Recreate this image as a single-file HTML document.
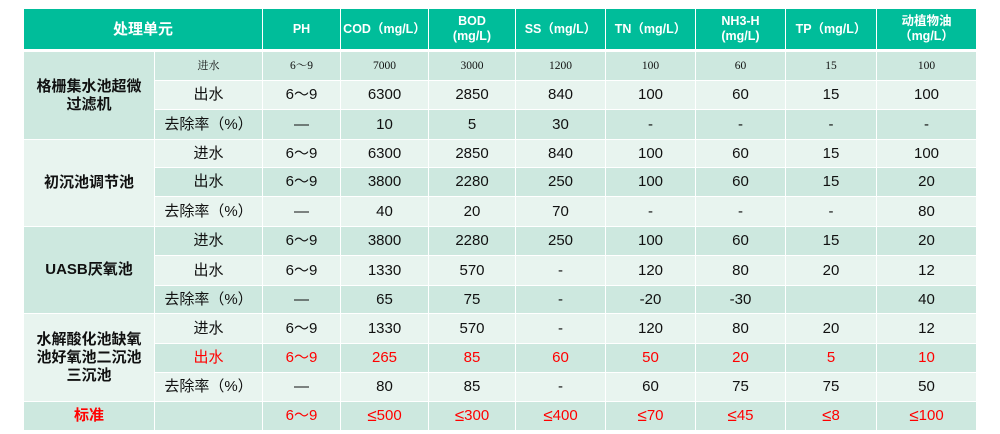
<!DOCTYPE html>
<html><head><meta charset="utf-8">
<style>
html,body{margin:0;padding:0;background:#fff;width:1000px;height:434px;overflow:hidden;}
body{position:relative;font-family:"Liberation Sans","Noto Sans CJK SC",sans-serif;color:#111;}
.c{position:absolute;display:flex;align-items:center;justify-content:center;text-align:center;font-size:15px;line-height:18px;white-space:nowrap;}
.h{top:9px;height:40px;background:#00bd9a;color:#fff;font-weight:bold;font-size:12.5px;line-height:15px;}
.d{background:#cde8df;}
.l{background:#e8f4ef;}
.s{font-size:11.5px;font-family:"Liberation Serif","Noto Serif CJK SC",serif;}
.s2{font-size:11px;}
.red{color:#ff0000;}
.b{font-weight:bold;}
.g{font-weight:bold;font-size:15px;line-height:18px;white-space:normal;}
.le{font-size:17px;}
.k0{left:24px;width:130px}.k1{left:155px;width:107px}.k2{left:263px;width:77px}.k3{left:341px;width:87px}
.k4{left:429px;width:86px}.k5{left:516px;width:89px}.k6{left:606px;width:89px}.k7{left:696px;width:89px}
.k8{left:786px;width:90px}.k9{left:877px;width:99px}
.r0{top:52px;height:28px}.r1{top:81px;height:28px}.r2{top:110px;height:29px}.r3{top:140px;height:27px}
.r4{top:168px;height:28px}.r5{top:197px;height:29px}.r6{top:227px;height:28px}.r7{top:256px;height:29px}
.r8{top:286px;height:27px}.r9{top:314px;height:29px}.r10{top:344px;height:28px}.r11{top:373px;height:28px}
.r12{top:402px;height:28px}
.hl{position:absolute;top:9px;height:40px;width:1px;background:rgba(255,255,255,0.75);}
</style></head><body>
<!-- header -->
<div class="c h" style="left:24px;width:238px;font-size:15px;">处理单元</div>
<div class="c h k2">PH</div>
<div class="c h k3">COD（mg/L）</div>
<div class="c h k4">BOD<br>(mg/L)</div>
<div class="c h k5">SS（mg/L）</div>
<div class="c h k6">TN（mg/L）</div>
<div class="c h k7">NH3-H<br>(mg/L)</div>
<div class="c h k8">TP（mg/L）</div>
<div class="c h k9">动植物油<br>（mg/L）</div>
<div class="hl" style="left:262px"></div><div class="hl" style="left:340px"></div><div class="hl" style="left:428px"></div>
<div class="hl" style="left:515px"></div><div class="hl" style="left:605px"></div><div class="hl" style="left:695px"></div>
<div class="hl" style="left:785px"></div><div class="hl" style="left:876px"></div>

<!-- group labels -->
<div class="c g d k0" style="top:52px;height:87px;">格栅集水池超微<br>过滤机</div>
<div class="c g l k0" style="top:140px;height:86px;">初沉池调节池</div>
<div class="c g d k0" style="top:227px;height:86px;">UASB厌氧池</div>
<div class="c g l k0" style="top:314px;height:87px;">水解酸化池缺氧<br>池好氧池二沉池<br>三沉池</div>

<!-- row 0 -->
<div class="c d s s2 r0 k1">进水</div><div class="c d s r0 k2">6～9</div><div class="c d s r0 k3">7000</div><div class="c d s r0 k4">3000</div><div class="c d s r0 k5">1200</div><div class="c d s r0 k6">100</div><div class="c d s r0 k7">60</div><div class="c d s r0 k8">15</div><div class="c d s r0 k9">100</div>
<!-- row 1 -->
<div class="c l r1 k1">出水</div><div class="c l r1 k2">6～9</div><div class="c l r1 k3">6300</div><div class="c l r1 k4">2850</div><div class="c l r1 k5">840</div><div class="c l r1 k6">100</div><div class="c l r1 k7">60</div><div class="c l r1 k8">15</div><div class="c l r1 k9">100</div>
<!-- row 2 -->
<div class="c d r2 k1">去除率（%）</div><div class="c d r2 k2">—</div><div class="c d r2 k3">10</div><div class="c d r2 k4">5</div><div class="c d r2 k5">30</div><div class="c d r2 k6">-</div><div class="c d r2 k7">-</div><div class="c d r2 k8">-</div><div class="c d r2 k9">-</div>
<!-- row 3 -->
<div class="c l r3 k1">进水</div><div class="c l r3 k2">6～9</div><div class="c l r3 k3">6300</div><div class="c l r3 k4">2850</div><div class="c l r3 k5">840</div><div class="c l r3 k6">100</div><div class="c l r3 k7">60</div><div class="c l r3 k8">15</div><div class="c l r3 k9">100</div>
<!-- row 4 -->
<div class="c d r4 k1">出水</div><div class="c d r4 k2">6～9</div><div class="c d r4 k3">3800</div><div class="c d r4 k4">2280</div><div class="c d r4 k5">250</div><div class="c d r4 k6">100</div><div class="c d r4 k7">60</div><div class="c d r4 k8">15</div><div class="c d r4 k9">20</div>
<!-- row 5 -->
<div class="c l r5 k1">去除率（%）</div><div class="c l r5 k2">—</div><div class="c l r5 k3">40</div><div class="c l r5 k4">20</div><div class="c l r5 k5">70</div><div class="c l r5 k6">-</div><div class="c l r5 k7">-</div><div class="c l r5 k8">-</div><div class="c l r5 k9">80</div>
<!-- row 6 -->
<div class="c d r6 k1">进水</div><div class="c d r6 k2">6～9</div><div class="c d r6 k3">3800</div><div class="c d r6 k4">2280</div><div class="c d r6 k5">250</div><div class="c d r6 k6">100</div><div class="c d r6 k7">60</div><div class="c d r6 k8">15</div><div class="c d r6 k9">20</div>
<!-- row 7 -->
<div class="c l r7 k1">出水</div><div class="c l r7 k2">6～9</div><div class="c l r7 k3">1330</div><div class="c l r7 k4">570</div><div class="c l r7 k5">-</div><div class="c l r7 k6">120</div><div class="c l r7 k7">80</div><div class="c l r7 k8">20</div><div class="c l r7 k9">12</div>
<!-- row 8 -->
<div class="c d r8 k1">去除率（%）</div><div class="c d r8 k2">—</div><div class="c d r8 k3">65</div><div class="c d r8 k4">75</div><div class="c d r8 k5">-</div><div class="c d r8 k6">-20</div><div class="c d r8 k7">-30</div><div class="c d r8 k8"></div><div class="c d r8 k9">40</div>
<!-- row 9 -->
<div class="c l r9 k1">进水</div><div class="c l r9 k2">6～9</div><div class="c l r9 k3">1330</div><div class="c l r9 k4">570</div><div class="c l r9 k5">-</div><div class="c l r9 k6">120</div><div class="c l r9 k7">80</div><div class="c l r9 k8">20</div><div class="c l r9 k9">12</div>
<!-- row 10 (red) -->
<div class="c d red r10 k1">出水</div><div class="c d red r10 k2">6～9</div><div class="c d red r10 k3">265</div><div class="c d red r10 k4">85</div><div class="c d red r10 k5">60</div><div class="c d red r10 k6">50</div><div class="c d red r10 k7">20</div><div class="c d red r10 k8">5</div><div class="c d red r10 k9">10</div>
<!-- row 11 -->
<div class="c l r11 k1">去除率（%）</div><div class="c l r11 k2">—</div><div class="c l r11 k3">80</div><div class="c l r11 k4">85</div><div class="c l r11 k5">-</div><div class="c l r11 k6">60</div><div class="c l r11 k7">75</div><div class="c l r11 k8">75</div><div class="c l r11 k9">50</div>
<!-- standard row -->
<div class="c d red b r12 k0">标准</div><div class="c d r12 k1"></div><div class="c d red r12 k2">6～9</div><div class="c d red r12 k3"><span class="le">≤</span>500</div><div class="c d red r12 k4"><span class="le">≤</span>300</div><div class="c d red r12 k5"><span class="le">≤</span>400</div><div class="c d red r12 k6"><span class="le">≤</span>70</div><div class="c d red r12 k7"><span class="le">≤</span>45</div><div class="c d red r12 k8"><span class="le">≤</span>8</div><div class="c d red r12 k9"><span class="le">≤</span>100</div>
</body></html>
